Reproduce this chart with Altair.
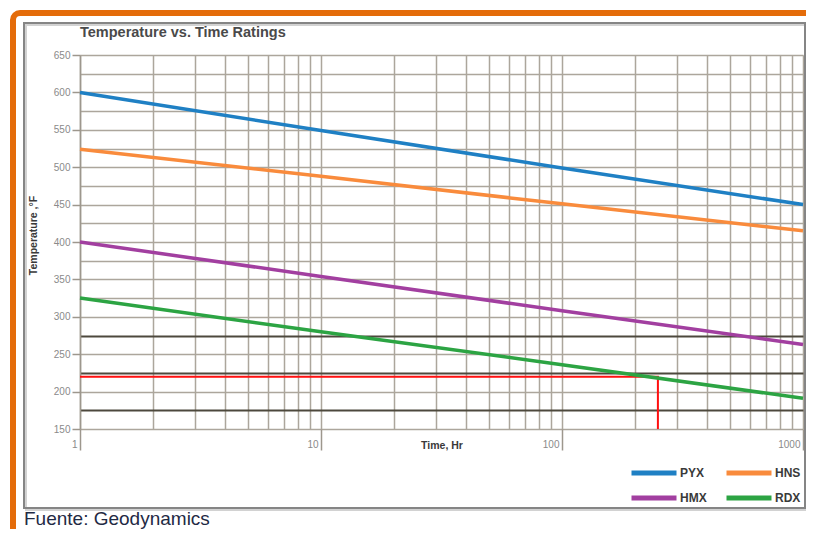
import altair as alt
import pandas as pd

# ---- data ----
hours = [1, 10, 100, 1000]
pyx = [600, 549, 499, 450]
hns = [524, 488, 451, 415]
hmx = [400, 354, 308, 263]
rdx = [325, 280, 236, 191]
series_names = ["PYX", "HNS", "HMX", "RDX"]
series_colors = ["#1f80c4", "#f98b3c", "#a23fa0", "#2ca443"]

limit_hours = [1, 250, 250]
limit_temps = [220, 220, 150]

x_grid = [1, 2, 3, 4, 5, 6, 7, 8, 9,
          10, 20, 30, 40, 50, 60, 70, 80, 90,
          100, 200, 300, 400, 500, 600, 700, 800, 900, 1000]
x_labels = [1, 10, 100, 1000]
y_grid = [150, 175, 200, 225, 250, 275, 300, 325, 350, 375, 400, 425,
          450, 475, 500, 525, 550, 575, 600, 625, 650]
dark_lines = [175, 225, 275]

title_text = "Temperature vs. Time Ratings"
x_title = "Time, Hr"
y_title = "Temperature ,°F"
source_text = "Fuente: Geodynamics"

# ---- tables ----
rows = []
for name, vals in zip(series_names, [pyx, hns, hmx, rdx]):
    for h, v in zip(hours, vals):
        rows.append({"series": name, "hours": h, "temp": v})
df = pd.DataFrame(rows)
red_df = pd.DataFrame({"hours": limit_hours, "temp": limit_temps,
                       "step": list(range(len(limit_hours)))})
one = pd.DataFrame({"k": [0]})

FONT = "Liberation Sans"
W, H = 723, 374

dec_test = " || ".join(f"datum.value == {v}" for v in x_labels)
fifty_test = "datum.value % 50 == 0"
dark_test = " || ".join(f"datum.value == {v}" for v in dark_lines)

x_enc = alt.X(
    "hours:Q",
    scale=alt.Scale(type="log", domain=[1, 1000], nice=False),
    axis=alt.Axis(
        values=x_grid, grid=True, gridColor="#aca69c", gridWidth=1.5,
        domain=False,
        labelExpr=f"({dec_test}) ? format(datum.value, 'd') : ''",
        labelFlush=False, labelBound=False, labelOverlap=False,
        labelAlign="right", labelOffset=-3, labelBaseline="middle",
        labelPadding=-6, labelFont=FONT, labelFontSize=10, labelColor="#8a8a8a",
        tickSize=21, tickWidth=1.5, tickColor="#9d978d",
        tickOpacity={"condition": {"test": dec_test, "value": 1}, "value": 0},
        title=x_title, titleFont=FONT, titleFontSize=10.5, titleFontWeight="bold",
        titleColor="#3a3a3a", titleY=16, titleBaseline="middle",
    ),
)
y_enc = alt.Y(
    "temp:Q",
    scale=alt.Scale(domain=[150, 650], nice=False, zero=False),
    axis=alt.Axis(
        values=y_grid, grid=True,
        gridColor={"condition": {"test": dark_test, "value": "#4d483d"}, "value": "#aca69c"},
        gridWidth={"condition": {"test": dark_test, "value": 2}, "value": 1.5},
        domain=True, domainColor="#9d978d", domainWidth=1.5,
        labelExpr=f"{fifty_test} ? datum.label : ''",
        labelFont=FONT, labelFontSize=10, labelColor="#8a8a8a", labelPadding=2,
        tickSize=8, tickWidth=1.5, tickColor="#9d978d",
        tickOpacity={"condition": {"test": fifty_test, "value": 1}, "value": 0},
        title=y_title, titleFont=FONT, titleFontSize=10.5, titleFontWeight="bold",
        titleColor="#3a3a3a", titleX=-47, titleY=180, titleAlign="center",
        titleBaseline="middle",
    ),
)

# ---- decorations (frame, box, title, source note) ----
orange = alt.Chart(one).mark_rect(
    fillOpacity=0, stroke="#e46c0a", strokeWidth=6, cornerRadius=7
).encode(x=alt.value(-67), x2=alt.value(780), y=alt.value(-42), y2=alt.value(560))

shadow = alt.Chart(one).mark_rect(
    fillOpacity=0, stroke="#d2d2d2", strokeWidth=2
).encode(x=alt.value(-54), x2=alt.value(727), y=alt.value(-30), y2=alt.value(455))

box = alt.Chart(one).mark_rect(
    fillOpacity=0, stroke="#858585", strokeWidth=2
).encode(x=alt.value(-56), x2=alt.value(725), y=alt.value(-32), y2=alt.value(453))

title = alt.Chart(one).mark_text(
    text=title_text, align="left", baseline="alphabetic",
    font=FONT, fontSize=14.5, fontWeight="bold", color="#4a4a4a"
).encode(x=alt.value(0), y=alt.value(-18))

source = alt.Chart(one).mark_text(
    text=source_text, align="left", baseline="alphabetic",
    font=FONT, fontSize=19, color="#1f2a44"
).encode(x=alt.value(-56), y=alt.value(470))

red = alt.Chart(red_df).mark_line(color="#ff1010", strokeWidth=2).encode(
    x=x_enc, y=y_enc, order="step:O"
)

lines = alt.Chart(df).mark_line(strokeWidth=3.5).encode(
    x=x_enc, y=y_enc,
    color=alt.Color(
        "series:N",
        scale=alt.Scale(domain=series_names, range=series_colors),
        sort=series_names,
        legend=alt.Legend(
            orient="none", legendX=549, legendY=411, columns=2, title=None,
            direction="horizontal",
            symbolType="stroke", symbolSize=2025, symbolStrokeWidth=5,
            labelFont=FONT, labelFontSize=12, labelFontWeight="bold",
            labelColor="#3a3a3a", labelOffset=1, columnPadding=17,
            clipHeight=14, rowPadding=11, padding=0,
        ),
    ),
)

chart = alt.layer(orange, shadow, box, title, source, red, lines).properties(
    width=W, height=H,
    padding={"left": 72, "top": 47, "right": 3, "bottom": 100},
    autosize=alt.AutoSizeParams(type="none"),
).configure_view(stroke=None).configure(background="white")

chart.save("out.html", embed_options={"renderer": "svg", "actions": False})
